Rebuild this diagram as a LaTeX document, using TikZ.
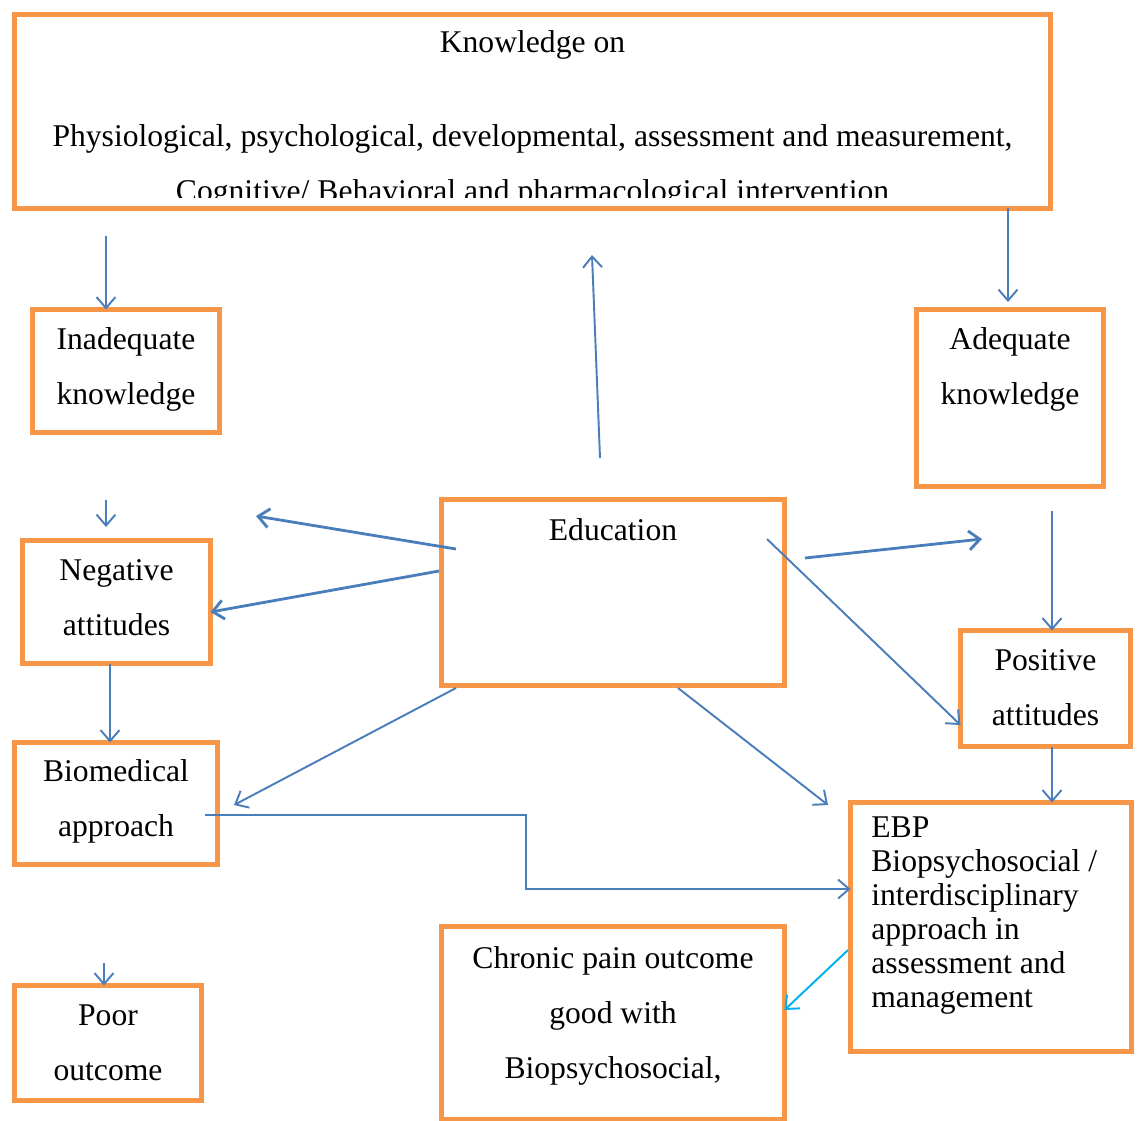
\documentclass[tikz,border=0pt]{standalone}
\usepackage{fontspec}
\setmainfont{Liberation Serif}
\usepackage{tikz}
\usetikzlibrary{arrows.meta}
\definecolor{boxorange}{HTML}{F79646}
\definecolor{arrowblue}{HTML}{4A7EBB}
\definecolor{arrowcyan}{HTML}{00B0F0}

\begin{document}
\begin{tikzpicture}[
  x=0.02cm,y=-0.02cm,
  line join=miter,
  box/.style={draw=boxorange,fill=white,line width=2.6pt,inner sep=0pt,outer sep=0pt},
  txt/.style={anchor=base,align=center,inner sep=0pt,font=\fontsize{18}{31.2}\selectfont},
  arr/.style={draw=arrowblue,line width=1.1pt,-{Straight Barb[length=0.22cm,width=0.38cm]}},
  thick arr/.style={arr,line width=1.6pt}
]
  \useasboundingbox (0,0) rectangle (1138,1120);

  % Boxes
  \node[box,minimum width=20.72cm,minimum height=3.88cm] (know) at (532.5,111.5) {};
  \node[box,minimum width=3.74cm,minimum height=2.46cm] (inad) at (126,371) {};
  \node[box,minimum width=3.74cm,minimum height=3.54cm] (adeq) at (1010,398) {};
  \node[box,minimum width=3.76cm,minimum height=2.46cm] (neg) at (116.5,602) {};
  \node[box,minimum width=6.86cm,minimum height=3.72cm] (edu) at (613,592.5) {};
  \node[box,minimum width=3.40cm,minimum height=2.32cm] (pos) at (1045.5,688.5) {};
  \node[box,minimum width=4.06cm,minimum height=2.44cm] (bio) at (116,803.5) {};
  \node[box,minimum width=5.62cm,minimum height=4.98cm] (ebp) at (991,927) {};
  \node[box,minimum width=3.74cm,minimum height=2.30cm] (poor) at (108,1043) {};
  \node[box,minimum width=6.86cm,minimum height=3.86cm] (chron) at (613,1023) {};

  % Box texts (base = last line)
  \begin{scope}
    \clip (0,0) rectangle (1138,197);
    \node[txt] (knowT) at (532.5,201) {Knowledge on\\[22pt]
      Physiological, psychological, developmental, assessment and measurement,\\
      Cognitive/ Behavioral and pharmacological intervention};
  \end{scope}
  \node[txt] (inadT) at (126,404) {Inadequate\\knowledge};
  \node[txt] (adeqT) at (1010,404) {Adequate\\knowledge};
  \node[txt] (negT) at (116.5,635) {Negative\\attitudes};
  \node[txt] (eduT) at (613,540) {Education};
  \node[txt] (posT) at (1045.5,725) {Positive\\attitudes};
  \node[txt] (bioT) at (116,836) {Biomedical\\approach};
  \node[txt,anchor=base west,align=left,font=\fontsize{18}{19.3}\selectfont] (ebpT) at (871,1007)
    {EBP\\Biopsychosocial /\\interdisciplinary\\approach in\\assessment and\\management};
  \node[txt] (poorT) at (108,1080) {Poor\\outcome};
  \node[txt] (chronT) at (613,1078) {Chronic pain outcome\\good with\\Biopsychosocial,};

  % Free ends
  \coordinate (inadIn) at (106,236);
  \coordinate (eduUp) at (600,458);
  \coordinate (eduUpTip) at (592,255);
  \coordinate (adeqTip) at (1008,302);
  \coordinate (negIn) at (106,500);
  \coordinate (negTip) at (106,527);
  \coordinate (eduL1) at (456,549);
  \coordinate (eduL1Tip) at (256,516);
  \coordinate (eduL2) at (439,571);
  \coordinate (eduR1) at (805,558);
  \coordinate (eduR1Tip) at (982,539);
  \coordinate (eduR2) at (767,539);
  \coordinate (posIn) at (1052,511);
  \coordinate (eduB1) at (456,688);
  \coordinate (bioTip) at (234,805);
  \coordinate (eduB2) at (678,688);
  \coordinate (ebpTip) at (828,805);
  \coordinate (bioOut) at (205,815);
  \coordinate (bend) at (526,889);
  \coordinate (ebpOut) at (848,950);
  \coordinate (poorIn) at (104,963);

  % Arrows
  \draw[arr] (inadIn) -- (inadIn |- inad.north);
  \draw[arr] (eduUp) -- (eduUpTip);
  \draw[arr] (adeqTip |- know.south) -- (adeqTip);
  \draw[arr] (negIn) -- (negTip);
  \draw[thick arr] (eduL1) -- (eduL1Tip);
  \draw[thick arr] (eduL2) -- (neg.east |- 0,612);
  \draw[thick arr] (eduR1) -- (eduR1Tip);
  \draw[arr] (eduR2) -- (pos.west |- 0,725);
  \draw[arr] (posIn) -- (pos.north -| posIn);
  \draw[arr] (neg.south -| 110,0) -- (bio.north -| 110,0);
  \draw[arr] (eduB1) -- (bioTip);
  \draw[arr] (eduB2) -- (ebpTip);
  \draw[arr] (pos.south -| posIn) -- (ebp.north -| posIn);
  \draw[arr] (bioOut) -| (bend) -- (ebp.west |- bend);
  \draw[arr,draw=arrowcyan] (ebpOut) -- (chron.east |- 0,1010);
  \draw[arr] (poorIn) -- (poor.north -| poorIn);
\end{tikzpicture}
\end{document}
